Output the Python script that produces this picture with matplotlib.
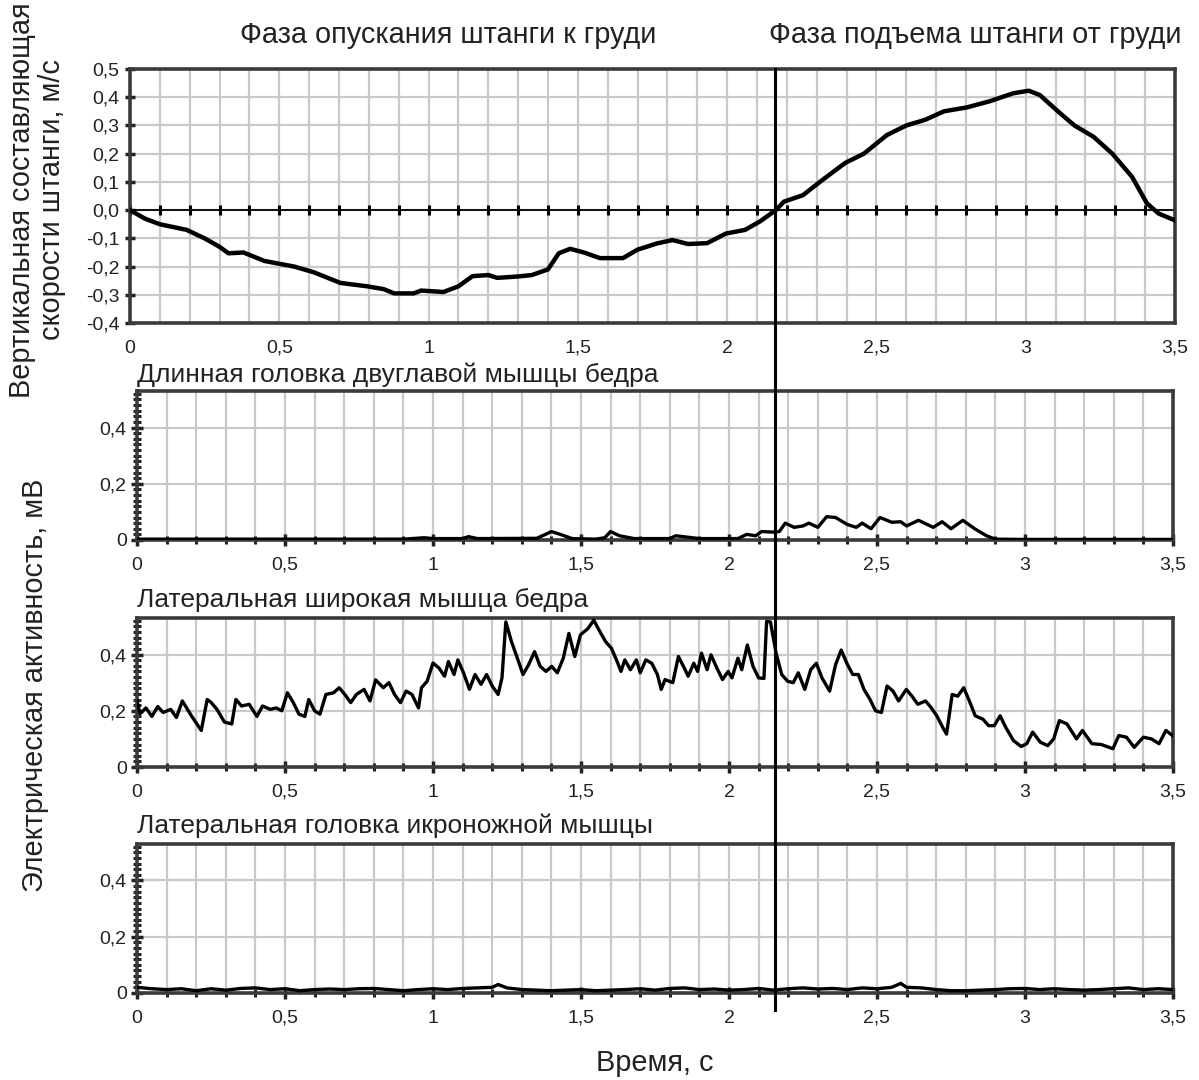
import numpy as np
import matplotlib
matplotlib.use("Agg")
import matplotlib.pyplot as plt
from matplotlib.lines import Line2D
from matplotlib.ticker import MultipleLocator, FuncFormatter

plt.rcParams["font.family"] = ["Liberation Sans", "DejaVu Sans"]

# vertical bar velocity, m/s
vel_t = [0, 0.05, 0.1, 0.19, 0.25, 0.3, 0.33, 0.38, 0.45, 0.5, 0.55, 0.615,
         0.705, 0.795, 0.85, 0.885, 0.95, 0.975, 1.05, 1.1, 1.147, 1.2, 1.23,
         1.3, 1.346, 1.4, 1.436, 1.474, 1.52, 1.574, 1.651, 1.70, 1.765, 1.817,
         1.869, 1.933, 1.996, 2.06, 2.11, 2.163, 2.19, 2.254, 2.318, 2.395,
         2.458, 2.535, 2.6, 2.663, 2.726, 2.803, 2.88, 2.958, 3.01, 3.047, 3.11,
         3.163, 3.227, 3.29, 3.356, 3.406, 3.445, 3.497]
vel_v = [0, -0.03, -0.05, -0.07, -0.1, -0.13, -0.153, -0.15, -0.18, -0.19, -0.2,
         -0.22, -0.258, -0.27, -0.28, -0.295, -0.295, -0.285, -0.29, -0.27, -0.234,
         -0.23, -0.24, -0.235, -0.23, -0.21, -0.153, -0.137, -0.15, -0.17, -0.17,
         -0.14, -0.118, -0.106, -0.12, -0.117, -0.083, -0.07, -0.04, 0.0, 0.03,
         0.053, 0.106, 0.167, 0.2, 0.266, 0.3, 0.32, 0.35, 0.364, 0.386, 0.414,
         0.423, 0.408, 0.348, 0.3, 0.26, 0.2, 0.118, 0.024, -0.012, -0.035]

# long head of biceps femoris, mV
bf_t = [0, 0.5, 0.9, 0.97, 1.0, 1.1, 1.12, 1.15, 1.35, 1.38, 1.40, 1.43, 1.47,
        1.55, 1.58, 1.6, 1.63, 1.68, 1.8, 1.82, 1.86, 1.9, 2.03, 2.06, 2.09,
        2.11, 2.15, 2.17, 2.19, 2.22, 2.25, 2.27, 2.3, 2.33, 2.36, 2.4, 2.43,
        2.45, 2.48, 2.51, 2.55, 2.58, 2.6, 2.64, 2.69, 2.72, 2.75, 2.79, 2.83,
        2.87, 2.9, 3.0, 3.5]
bf_v = [0.003, 0.003, 0.003, 0.008, 0.005, 0.005, 0.012, 0.005, 0.006, 0.02,
        0.03, 0.02, 0.005, 0.003, 0.008, 0.03, 0.015, 0.005, 0.005, 0.015, 0.01,
        0.005, 0.005, 0.02, 0.015, 0.03, 0.028, 0.03, 0.06, 0.045, 0.05, 0.06,
        0.045, 0.083, 0.08, 0.055, 0.045, 0.06, 0.04, 0.08, 0.063, 0.065, 0.05,
        0.07, 0.045, 0.065, 0.04, 0.07, 0.04, 0.015, 0.003, 0.002, 0.002]

# vastus lateralis, mV
vl_t = [0, 0.01, 0.03, 0.05, 0.07, 0.088, 0.114, 0.133, 0.153, 0.185, 0.217,
        0.237, 0.25, 0.27, 0.295, 0.32, 0.334, 0.353, 0.379, 0.405, 0.424, 0.45,
        0.47, 0.489, 0.508, 0.528, 0.547, 0.567, 0.58, 0.6, 0.618, 0.638, 0.664,
        0.683, 0.702, 0.722, 0.741, 0.767, 0.787, 0.806, 0.832, 0.851, 0.87,
        0.89, 0.909, 0.929, 0.951, 0.961, 0.98, 1.0, 1.02, 1.039, 1.052, 1.071,
        1.084, 1.103, 1.123, 1.142, 1.162, 1.181, 1.2, 1.22, 1.233, 1.246,
        1.265, 1.285, 1.304, 1.323, 1.343, 1.362, 1.382, 1.401, 1.42, 1.44,
        1.459, 1.479, 1.498, 1.524, 1.543, 1.564, 1.583, 1.603, 1.622, 1.635,
        1.648, 1.667, 1.687, 1.7, 1.719, 1.739, 1.758, 1.771, 1.784, 1.81,
        1.829, 1.849, 1.862, 1.881, 1.894, 1.907, 1.926, 1.939, 1.959, 1.978,
        1.997, 2.01, 2.03, 2.043, 2.062, 2.081, 2.1, 2.118, 2.127, 2.14, 2.159,
        2.178, 2.198, 2.217, 2.234, 2.256, 2.276, 2.295, 2.314, 2.34, 2.36,
        2.379, 2.398, 2.418, 2.437, 2.456, 2.476, 2.495, 2.515, 2.534, 2.554,
        2.573, 2.599, 2.618, 2.638, 2.664, 2.683, 2.702, 2.722, 2.735, 2.754,
        2.773, 2.793, 2.812, 2.832, 2.858, 2.877, 2.896, 2.916, 2.935, 2.961,
        2.987, 3.006, 3.026, 3.052, 3.077, 3.097, 3.116, 3.142, 3.174, 3.194,
        3.226, 3.258, 3.297, 3.317, 3.343, 3.369, 3.4, 3.427, 3.453, 3.476,
        3.498]
vl_v = [0.235, 0.19, 0.21, 0.18, 0.215, 0.194, 0.205, 0.176, 0.235, 0.18, 0.13,
        0.24, 0.23, 0.205, 0.16, 0.153, 0.24, 0.217, 0.223, 0.18, 0.217, 0.205,
        0.21, 0.2, 0.264, 0.229, 0.188, 0.18, 0.24, 0.2, 0.188, 0.258, 0.264,
        0.282, 0.258, 0.229, 0.258, 0.276, 0.235, 0.31, 0.282, 0.3, 0.258,
        0.229, 0.27, 0.258, 0.21, 0.282, 0.305, 0.37, 0.352, 0.323, 0.375,
        0.329, 0.381, 0.335, 0.276, 0.329, 0.294, 0.329, 0.288, 0.258, 0.317,
        0.516, 0.446, 0.387, 0.329, 0.364, 0.41, 0.358, 0.34, 0.358, 0.335,
        0.387, 0.475, 0.393, 0.47, 0.493, 0.522, 0.481, 0.446, 0.422, 0.375,
        0.34, 0.381, 0.346, 0.381, 0.335, 0.381, 0.369, 0.329, 0.276, 0.311,
        0.3, 0.393, 0.352, 0.323, 0.369, 0.34, 0.405, 0.346, 0.399, 0.352,
        0.311, 0.34, 0.317, 0.387, 0.346, 0.434, 0.358, 0.317, 0.315, 0.518,
        0.516, 0.405, 0.329, 0.305, 0.3, 0.335, 0.276, 0.346, 0.369, 0.317,
        0.27, 0.364, 0.416, 0.369, 0.329, 0.329, 0.276, 0.241, 0.2, 0.194,
        0.288, 0.27, 0.235, 0.276, 0.252, 0.223, 0.235, 0.211, 0.182, 0.141,
        0.117, 0.258, 0.252, 0.282, 0.235, 0.182, 0.17, 0.147, 0.147, 0.182,
        0.141, 0.094, 0.073, 0.083, 0.124, 0.088, 0.076, 0.1, 0.165, 0.153,
        0.1, 0.13, 0.083, 0.08, 0.065, 0.112, 0.106, 0.07, 0.106, 0.1, 0.083,
        0.13, 0.112]

# lateral head of gastrocnemius, mV
gl_t = [0, 0.05, 0.1, 0.15, 0.2, 0.25, 0.3, 0.35, 0.4, 0.45, 0.5, 0.55, 0.6,
        0.65, 0.7, 0.75, 0.8, 0.85, 0.9, 0.95, 1.0, 1.05, 1.1, 1.15, 1.2, 1.22,
        1.25, 1.3, 1.35, 1.4, 1.45, 1.5, 1.55, 1.6, 1.65, 1.7, 1.75, 1.8, 1.85,
        1.9, 1.95, 2.0, 2.05, 2.1, 2.15, 2.2, 2.25, 2.3, 2.35, 2.4, 2.45, 2.5,
        2.55, 2.58, 2.6, 2.65, 2.7, 2.75, 2.8, 2.85, 2.9, 2.95, 3.0, 3.05, 3.1,
        3.15, 3.2, 3.25, 3.3, 3.35, 3.4, 3.45, 3.5]
gl_v = [0.02, 0.015, 0.012, 0.015, 0.008, 0.015, 0.01, 0.016, 0.018, 0.012,
        0.015, 0.008, 0.012, 0.014, 0.012, 0.015, 0.016, 0.012, 0.008, 0.012,
        0.015, 0.012, 0.016, 0.018, 0.02, 0.03, 0.018, 0.012, 0.01, 0.008, 0.01,
        0.012, 0.008, 0.01, 0.012, 0.015, 0.01, 0.016, 0.018, 0.012, 0.014,
        0.01, 0.012, 0.016, 0.01, 0.015, 0.018, 0.014, 0.016, 0.012, 0.018,
        0.015, 0.02, 0.034, 0.02, 0.018, 0.012, 0.008, 0.008, 0.01, 0.012,
        0.015, 0.016, 0.012, 0.015, 0.012, 0.01, 0.012, 0.015, 0.018, 0.012,
        0.015, 0.012]

emg_titles = ["Длинная головка двуглавой мышцы бедра",
              "Латеральная широкая мышца бедра",
              "Латеральная головка икроножной мышцы"]
phase_split = 2.16

GRID = "#c9c9c9"
SPINE = "#3a3a3a"
INK = "#222222"
TICK_FS = 14
PANEL_FS = 19
TEXT_FS = 20.8


def comma(fmt):
    return FuncFormatter(lambda v, p: (fmt % v).replace(".", ",").replace("-0,0", "0,0"))


def style_common(ax):
    for s in ax.spines.values():
        s.set_color(SPINE)
        s.set_linewidth(2.6)
    ax.set_xlim(0, 3.5)
    ax.xaxis.set_major_locator(MultipleLocator(0.5))
    ax.xaxis.set_minor_locator(MultipleLocator(0.1))
    ax.xaxis.set_major_formatter(FuncFormatter(
        lambda v, p: ("%g" % round(v, 1)).replace(".", ",")))
    ax.grid(True, which="both", axis="x", color=GRID, lw=1.6)
    ax.tick_params(labelsize=TICK_FS, colors=INK)
    ax.set_axisbelow(True)


fig = plt.figure(figsize=(11.99, 10.8), dpi=100)

# velocity panel
ax0 = fig.add_axes([0.1084, 0.7009, 0.8716, 0.2352])
style_common(ax0)
ax0.set_ylim(-0.4, 0.5)
ax0.yaxis.set_major_locator(MultipleLocator(0.1))
ax0.yaxis.set_major_formatter(comma("%.1f"))
ax0.grid(True, which="major", axis="y", color=GRID, lw=1.6)
ax0.tick_params(axis="x", which="both", length=0, pad=12)
ax0.tick_params(axis="y", which="major", direction="inout", length=7, width=2.5,
                color=INK, pad=4)
ax0.axhline(0, color="black", lw=1.3, zorder=2)
zero_ticks = [round(0.1 * i, 1) for i in range(36)]
ax0.plot(zero_ticks, [0] * len(zero_ticks), ls="none", marker="|", ms=7,
         mew=2.2, color="black", zorder=2)
ax0.plot(vel_t, vel_v, color="black", lw=3.2, zorder=3)

# EMG panels
emg_data = [(bf_t, bf_v), (vl_t, vl_v), (gl_t, gl_v)]
emg_bottoms = [0.5, 0.2898, 0.0806]
emg_title_y = [0.6528, 0.4444, 0.2352]
for (t, v), b, title, ty in zip(emg_data, emg_bottoms, emg_titles, emg_title_y):
    ax = fig.add_axes([0.1143, b, 0.864, 0.138])
    style_common(ax)
    ax.set_ylim(0, 0.53)
    ax.yaxis.set_major_locator(MultipleLocator(0.2))
    ax.yaxis.set_minor_locator(MultipleLocator(0.02))
    ax.yaxis.set_major_formatter(FuncFormatter(
        lambda val, p: ("%g" % round(val, 1)).replace(".", ",")))
    ax.grid(True, which="major", axis="y", color=GRID, lw=1.6)
    ax.tick_params(axis="both", which="both", direction="inout", color=INK)
    ax.tick_params(axis="both", which="major", length=8, width=2.5)
    ax.tick_params(axis="both", which="minor", length=6, width=2.2)
    ax.tick_params(axis="x", which="major", pad=8)
    ax.plot(t, v, color="black", lw=2.4, zorder=3)
    fig.text(0.114, ty, title, fontsize=PANEL_FS, color=INK,
             ha="left", va="center")

# phase boundary through all panels
xf = fig.transFigure.inverted().transform(ax0.transData.transform((phase_split, 0)))[0]
fig.add_artist(Line2D([xf, xf], [0.0648, 0.9361], transform=fig.transFigure,
                      color="black", lw=2.2, zorder=10))

fig.text(0.3737, 0.9676, "Фаза опускания штанги к груди", fontsize=TEXT_FS,
         color=INK, ha="center", va="center")
fig.text(0.813, 0.9676, "Фаза подъема штанги от груди", fontsize=TEXT_FS,
         color=INK, ha="center", va="center")
fig.text(0.031, 0.815, "Вертикальная составляющая\nскорости штанги, м/с",
         fontsize=TEXT_FS, color=INK, rotation=90, ha="center",
         va="center", linespacing=1.1)
fig.text(0.029, 0.365, "Электрическая активность, мВ", fontsize=TEXT_FS,
         color=INK, rotation=90, ha="center", va="center")
fig.text(0.546, 0.0157, "Время, с", fontsize=TEXT_FS, color=INK,
         ha="center", va="center")

fig.savefig("out.png", dpi=100)
